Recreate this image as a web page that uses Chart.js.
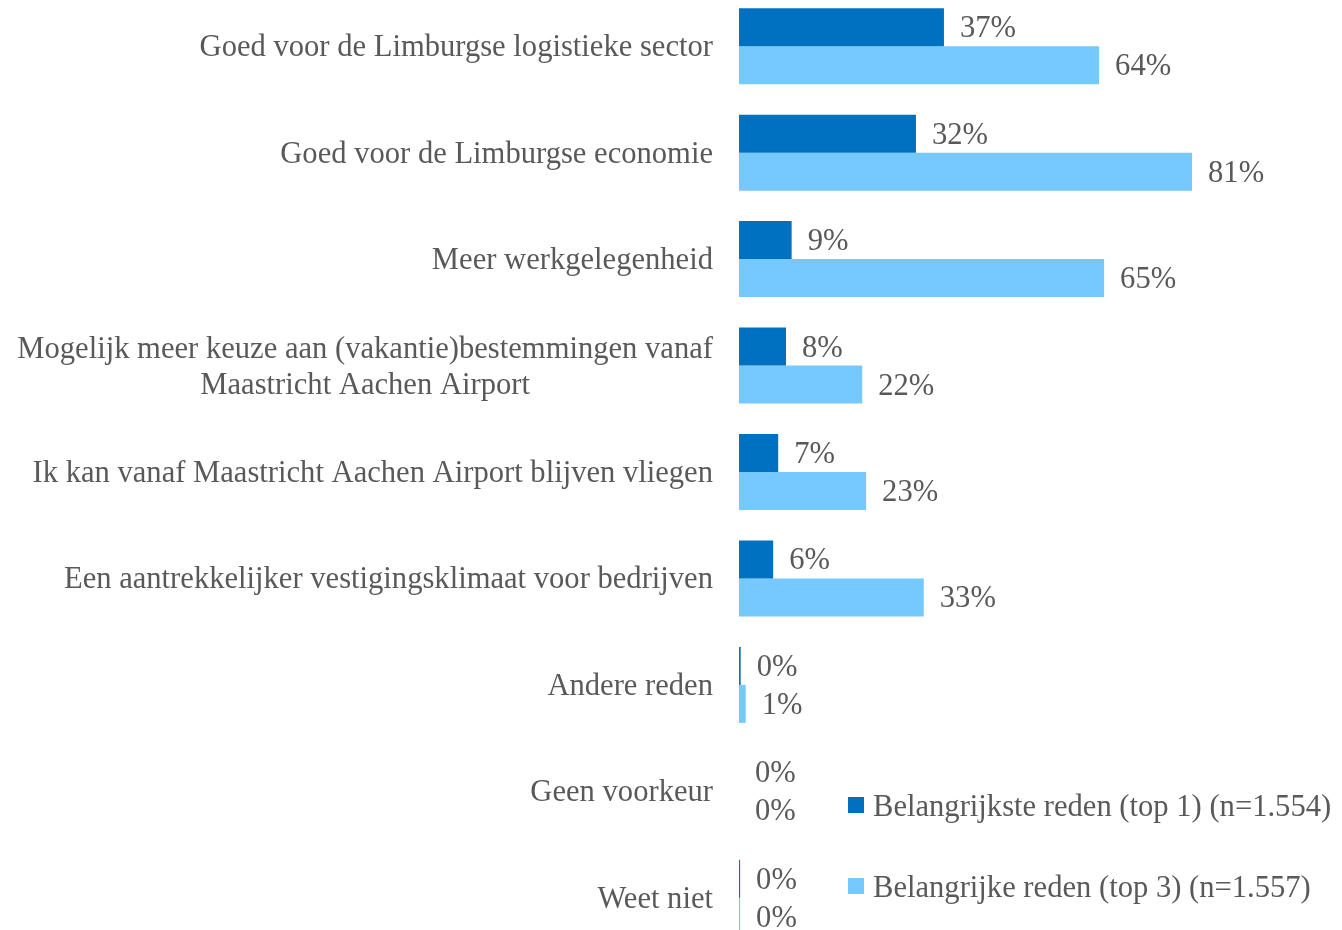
<!DOCTYPE html>
<html>
<head>
<meta charset="utf-8">
<script src="https://cdn.jsdelivr.net/npm/chart.js@4"></script>
<style>
  html, body { margin: 0; padding: 0; background: #fff; overflow: hidden; }
  body { width: 1342px; height: 930px; position: relative; font-family: "Liberation Serif", serif; color: #595959; }
  #wrap { position: absolute; left: 0; top: -7px; width: 1342px; height: 958px; }
  #legend { position: absolute; left: 848px; top: 0; }
  .item { position: absolute; left: 0; white-space: nowrap; font-size: 30.6px; line-height: 36px; }
  .sw { position: absolute; left: 0; top: 9px; width: 16px; height: 16px; }
  .txt { position: absolute; left: 25px; top: 0; }
</style>
</head>
<body>
<div id="wrap"><canvas id="chart"></canvas></div>
<div id="legend"></div>
<script>
const categories = [
  'Goed voor de Limburgse logistieke sector',
  'Goed voor de Limburgse economie',
  'Meer werkgelegenheid',
  ['Mogelijk meer keuze aan (vakantie)bestemmingen vanaf', 'Maastricht Aachen Airport'],
  'Ik kan vanaf Maastricht Aachen Airport blijven vliegen',
  'Een aantrekkelijker vestigingsklimaat voor bedrijven',
  'Andere reden',
  'Geen voorkeur',
  'Weet niet'
];
const seriesNames = ['Belangrijkste reden (top 1) (n=1.554)', 'Belangrijke reden (top 3) (n=1.557)'];
const top1 = [36.6, 31.6, 9.4, 8.4, 7.0, 6.1, 0.3, 0, 0.2];
const top3 = [64.3, 80.9, 65.2, 22.0, 22.7, 33.0, 1.2, 0, 0.2];
const colors = ['#0070C0', '#75C9FF'];

const FONT = '30.6px "Liberation Serif", serif';
const TEXT = '#595959';

const labelPlugin = {
  id: 'labels',
  afterDatasetsDraw(chart) {
    const ctx = chart.ctx;
    const y = chart.scales.y;
    ctx.save();
    ctx.font = FONT;
    ctx.fillStyle = TEXT;
    ctx.textBaseline = 'middle';

    // category labels, multi-line ones centred on their widest line
    const right = chart.chartArea.left - 26;
    categories.forEach((cat, i) => {
      const lines = Array.isArray(cat) ? cat : [cat];
      const cy = y.getPixelForValue(i) + 2;
      const widest = Math.max(...lines.map(l => ctx.measureText(l).width));
      ctx.textAlign = 'center';
      lines.forEach((l, j) => {
        ctx.fillText(l, right - widest / 2, cy + (j - (lines.length - 1) / 2) * 36);
      });
    });

    // value labels
    ctx.textAlign = 'left';
    chart.data.datasets.forEach((ds, di) => {
      chart.getDatasetMeta(di).data.forEach((bar, i) => {
        ctx.fillText(Math.round(ds.data[i]) + '%', bar.x + 16, bar.y + 2);
      });
    });
    ctx.restore();
  }
};

new Chart(document.getElementById('chart'), {
  type: 'bar',
  data: {
    labels: categories,
    datasets: [
      { label: seriesNames[0], data: top1, backgroundColor: colors[0] },
      { label: seriesNames[1], data: top3, backgroundColor: colors[1] }
    ]
  },
  options: {
    indexAxis: 'y',
    responsive: true,
    maintainAspectRatio: false,
    animation: false,
    categoryPercentage: 0.714,
    barPercentage: 1,
    layout: { padding: { left: 739, right: 43, top: 0, bottom: 0 } },
    scales: {
      x: { display: false, min: 0, max: 100 },
      y: { display: false }
    },
    plugins: {
      legend: { display: false },
      tooltip: { enabled: false }
    }
  },
  plugins: [labelPlugin]
});

// legend
const legend = document.getElementById('legend');
const legendTops = [788, 869];
seriesNames.forEach((name, i) => {
  const item = document.createElement('div');
  item.className = 'item';
  item.style.top = legendTops[i] + 'px';
  const sw = document.createElement('span');
  sw.className = 'sw';
  sw.style.background = colors[i];
  const txt = document.createElement('span');
  txt.className = 'txt';
  txt.textContent = name;
  item.appendChild(sw);
  item.appendChild(txt);
  legend.appendChild(item);
});
</script>
</body>
</html>
